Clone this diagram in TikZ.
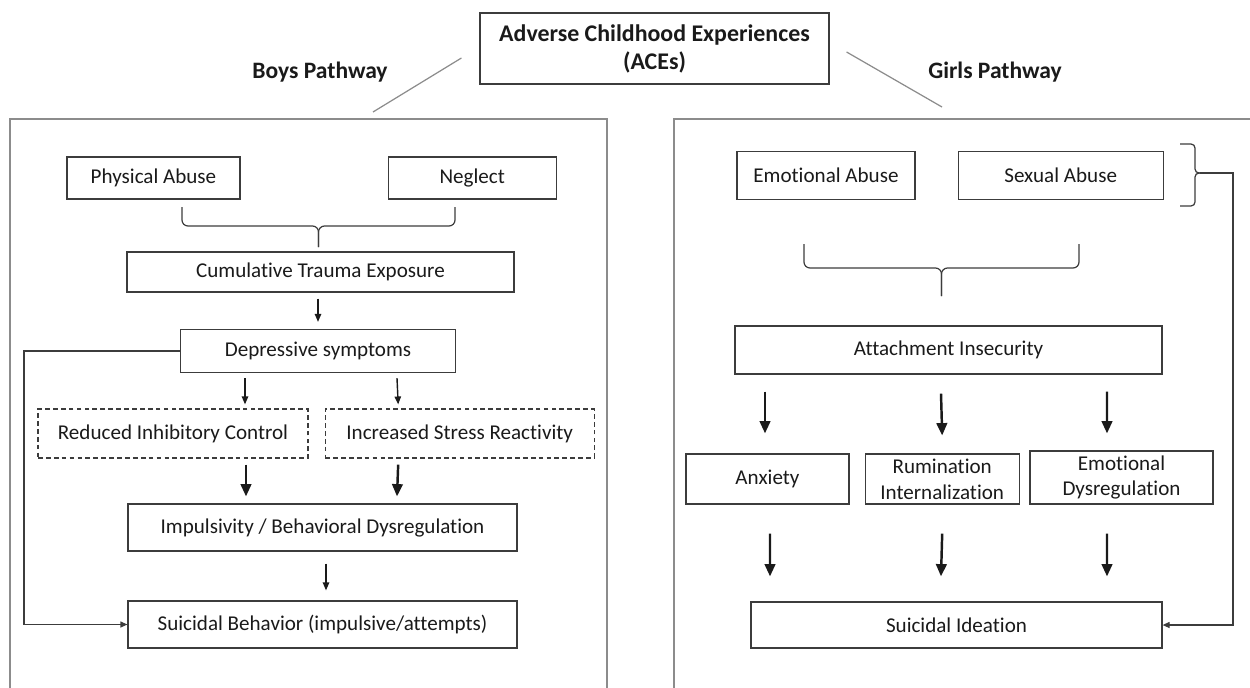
\documentclass[tikz,border=0pt]{standalone}
\usepackage{fontspec}
\setmainfont{Carlito}[Ligatures=NoCommon]
\usepackage{tikz}
\usetikzlibrary{arrows.meta, positioning, calc}
\definecolor{BoxGray}{HTML}{3C3C3C}
\definecolor{PanelGray}{HTML}{8C8C8C}
\definecolor{InkBlack}{HTML}{1A1A1A}
\tikzset{
  % Box styles
  stepbox/.style={rectangle, draw=BoxGray, line width=0.7pt, text=InkBlack, font=\fontsize{12}{14.7}\selectfont, align=center, inner sep=0pt},
  dashbox/.style={stepbox, dash pattern=on 2.7pt off 1.8pt},
  titlebox/.style={stepbox, font=\fontsize{13.6}{16}\selectfont\bfseries},
  pathlabel/.style={font=\fontsize{13.4}{16}\selectfont\bfseries, text=InkBlack},
  % Line styles
  panel/.style={draw=PanelGray, line width=0.6pt},
  link/.style={draw=PanelGray, line width=0.7pt},
  braceline/.style={draw=BoxGray, line width=0.7pt, rounded corners=0.12cm},
  % Arrow styles
  thinarrow/.style={-{Triangle[length=4.5pt, width=3.6pt]}, line width=0.8pt, InkBlack},
  thickarrow/.style={-{Triangle[length=7pt, width=6pt]}, line width=1.4pt, InkBlack},
  backarrow/.style={-{Triangle[length=4pt, width=3.4pt]}, line width=0.7pt, BoxGray}
}
\begin{document}
\begin{tikzpicture}[x=0.02cm, y=-0.02cm]
  \useasboundingbox (0,0) rectangle (1250,687);

  % Top of the figure
  \node[titlebox, minimum width=6.98cm, minimum height=1.42cm] (aces) at (654.5,48.5) {Adverse Childhood Experiences\\(ACEs)};
  \node[pathlabel] (boys) at (320,72) {Boys Pathway};
  \node[pathlabel] (girls) at (995,72) {Girls Pathway};

  \coordinate (boysend) at (373,112);
  \coordinate (girlsend) at (942,107);
  \draw[link] ($(aces.west)+(-18,9.5)$) -- (boysend);
  \draw[link] ($(aces.east)+(17,3.5)$) -- (girlsend);

  % Panels
  \draw[panel] (10,690) -- (10,119) -- (607,119) -- (607,690);
  \draw[panel] (674,690) -- (674,119) -- (1255,119);

  % Boys pathway
  \node[stepbox, minimum width=3.46cm, minimum height=0.84cm] (physical) at (153.5,178) {Physical Abuse};
  \node[stepbox, minimum width=3.36cm, minimum height=0.84cm, right=2.94cm of physical] (neglect) {Neglect};

  \node[stepbox, minimum width=7.74cm, minimum height=0.8cm] (trauma) at (320.5,272) {Cumulative Trauma Exposure};
  \node[stepbox, minimum width=5.5cm, minimum height=0.86cm] (depressive) at (318,351) {Depressive symptoms};

  \node[dashbox, minimum width=5.4cm, minimum height=0.98cm] (inhibit) at (173,433.5) {Reduced Inhibitory Control};
  \node[dashbox, minimum width=5.38cm, minimum height=0.98cm, right=0.32cm of inhibit] (stress) {Increased Stress Reactivity};

  \node[stepbox, minimum width=7.78cm, minimum height=0.94cm] (impulsive) at (322.5,527.5) {Impulsivity / Behavioral Dysregulation};
  \node[stepbox, minimum width=7.78cm, minimum height=0.94cm] (behavior) at (322.5,624.5) {Suicidal Behavior (impulsive/attempts)};

  % Girls pathway
  \node[stepbox, minimum width=3.56cm, minimum height=0.96cm] (emotional) at (826,175.5) {Emotional Abuse};
  \node[stepbox, minimum width=4.1cm, minimum height=0.96cm, right=0.84cm of emotional] (sexual) {Sexual Abuse};

  \node[stepbox, minimum width=8.54cm, minimum height=0.96cm] (attach) at (948.5,350) {Attachment Insecurity};

  \node[stepbox, minimum width=3.26cm, minimum height=1cm] (anxiety) at (767.5,479) {Anxiety};
  \node[stepbox, minimum width=3.08cm, minimum height=1cm, right=0.3cm of anxiety] (rumination) {Rumination\\Internalization};
  \node[stepbox, minimum width=3.66cm, minimum height=1.06cm] (dysreg) at (1121.5,477.5) {Emotional\\Dysregulation};

  \node[stepbox, minimum width=8.22cm, minimum height=0.92cm] (ideation) at (956.5,625) {Suicidal Ideation};

  % Braces
  \draw[braceline] (182,207) -- (182,226) -- (318.5,226) -- (318.5,247);
  \draw[braceline] (455,207) -- (455,226) -- (318.5,226) -- (318.5,247);
  \draw[braceline] (804,244) -- (804,268) -- (941.5,268) -- (941.5,296);
  \draw[braceline] (1079,244) -- (1079,268) -- (941.5,268) -- (941.5,296);

  \coordinate (brtip) at (1200,173);
  \draw[braceline, rounded corners=0.08cm] (1180,144) -- (1195,144) -- (1195,173) -- (brtip);
  \draw[braceline, rounded corners=0.08cm] (1180,206) -- (1195,206) -- (1195,173) -- (brtip);

  % Arrows, boys
  \draw[thinarrow] ($(trauma.south)+(-2.5,6)$) -- ($(depressive.north)+(0,-7)$);
  \draw[thinarrow] ($(depressive.south)+(-73,5)$) -- ($(inhibit.north)+(72,-4)$);
  \draw[thinarrow] ($(depressive.south)+(79,5)$) -- ($(stress.north)+(-61.5,-4)$);
  \draw[thickarrow] ($(inhibit.south)+(73,6)$) -- ($(impulsive.north)+(-76.5,-7)$);
  \draw[thickarrow] ($(stress.south)+(-61.5,6)$) -- ($(impulsive.north)+(74.5,-7)$);
  \draw[thinarrow] ($(impulsive.south)+(3.5,12)$) -- ($(behavior.north)+(3.5,-10)$);

  \coordinate (boysback) at (24,351);
  \draw[backarrow] (depressive.west) -- (boysback) |- (behavior.west);

  % Arrows, girls
  \draw[thickarrow] ($(attach.south)+(-183.5,17)$) -- ($(anxiety.north)+(-2.5,-20)$);
  \draw[thickarrow] ($(attach.south)+(-7.5,19)$) -- ($(rumination.north)+(0,-18)$);
  \draw[thickarrow] ($(attach.south)+(158.5,17)$) -- ($(dysreg.north)+(-14.5,-17)$);
  \draw[thickarrow] ($(anxiety.south)+(2.5,29)$) -- ($(ideation.north)+(-186.5,-25)$);
  \draw[thickarrow] ($(rumination.south)+(0,29)$) -- ($(ideation.north)+(-15.5,-25)$);
  \draw[thickarrow] ($(dysreg.south)+(-14.5,29)$) -- ($(ideation.north)+(150.5,-25)$);

  \coordinate (girlsback) at (1233,173);
  \draw[backarrow] (brtip) -- (girlsback) |- (ideation.east);
\end{tikzpicture}
\end{document}
